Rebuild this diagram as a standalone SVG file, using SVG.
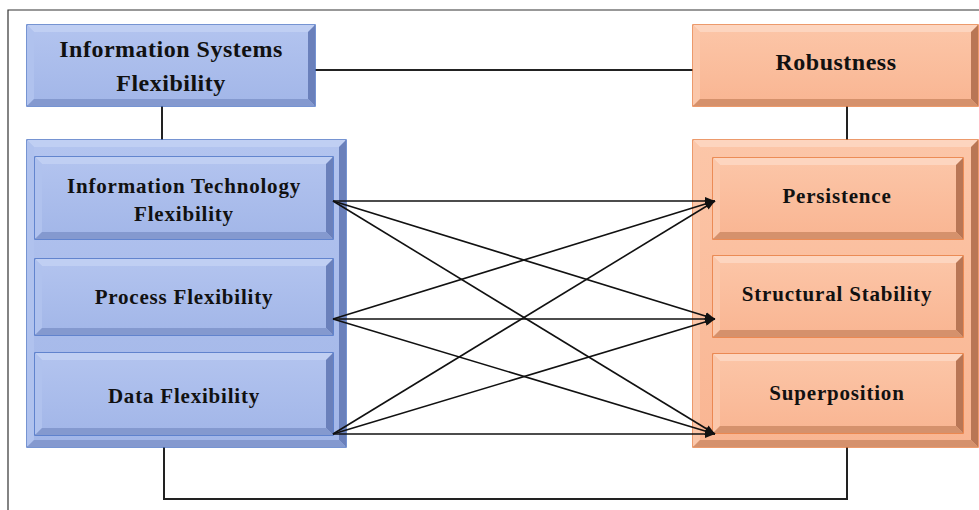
<svg xmlns="http://www.w3.org/2000/svg" width="979" height="510" viewBox="0 0 979 510">
  <defs>
    <marker id="arrow" viewBox="0 0 10 8" refX="10" refY="4" markerWidth="10" markerHeight="8" markerUnits="userSpaceOnUse" orient="auto">
      <path d="M0,0 L10,4 L0,8 Z" fill="#111"/>
    </marker>
    <linearGradient id="blueFace" x1="0" y1="0" x2="0" y2="1">
      <stop offset="0" stop-color="#b3c4ef"/>
      <stop offset="1" stop-color="#a2b6e8"/>
    </linearGradient>
    <linearGradient id="orangeFace" x1="0" y1="0" x2="0" y2="1">
      <stop offset="0" stop-color="#fcc6a8"/>
      <stop offset="1" stop-color="#f9b592"/>
    </linearGradient>
  </defs>
  <style>
    .b-face { fill: url(#blueFace); stroke: #4a72c4; stroke-width: 1.5; }
    .b-top { fill: #c0cff3; }
    .b-left { fill: #b0c2ee; }
    .b-right { fill: #6a80bb; }
    .b-bottom { fill: #8499cf; }
    .o-face { fill: url(#orangeFace); stroke: #e67a3c; stroke-width: 1.5; }
    .o-top { fill: #fdd5bf; }
    .o-left { fill: #fbc7aa; }
    .o-right { fill: #b97655; }
    .o-bottom { fill: #d5916c; }
    .frame { stroke: #333; stroke-width: 1.2; fill: none; }
    .link { stroke: #222; stroke-width: 2; fill: none; }
    .arr { stroke: #111; stroke-width: 1.6; fill: none; marker-end: url(#arrow); }
    text { font-family: "Liberation Serif", "Times New Roman", serif; font-weight: bold; fill: #111; text-anchor: middle; }
    .t-big { font-size: 24px; letter-spacing: 0.5px; }
    .t-mid { font-size: 21px; letter-spacing: 0.8px; }
  </style>

  <!-- page frame -->
  <path class="frame" d="M8,510 L8,10 L979,10"/>

  <!-- plain links between the parent boxes (drawn behind the boxes) -->
  <g id="links">
    <line class="link" x1="315" y1="70" x2="693" y2="70"/>
    <line class="link" x1="162" y1="106" x2="162" y2="140"/>
    <line class="link" x1="847" y1="106" x2="847" y2="140"/>
    <path class="link" d="M164,447 L164,499 L847,499 L847,447"/>
  </g>

  <!-- Information Systems Flexibility -->
  <g id="is-flexibility">
    <rect class="b-face" x="27" y="25" width="288" height="81"/>
    <polygon class="b-top" points="27,25 315,25 308,32 34,32"/>
    <polygon class="b-left" points="27,25 34,32 34,99 27,106"/>
    <polygon class="b-right" points="315,25 315,106 308,99 308,32"/>
    <polygon class="b-bottom" points="27,106 34,99 308,99 315,106"/>
    <text class="t-big" x="171" y="57">Information Systems</text>
    <text class="t-big" x="171" y="91">Flexibility</text>
  </g>

  <!-- left container -->
  <g id="is-group">
    <rect class="b-face" x="27" y="140" width="319" height="307"/>
    <polygon class="b-top" points="27,140 346,140 339,147 34,147"/>
    <polygon class="b-left" points="27,140 34,147 34,440 27,447"/>
    <polygon class="b-right" points="346,140 346,447 339,440 339,147"/>
    <polygon class="b-bottom" points="27,447 34,440 339,440 346,447"/>
  </g>

  <g id="it-flexibility">
    <rect class="b-face" x="35" y="157" width="298" height="82"/>
    <polygon class="b-top" points="35,157 333,157 326,164 42,164"/>
    <polygon class="b-left" points="35,157 42,164 42,232 35,239"/>
    <polygon class="b-right" points="333,157 333,239 326,232 326,164"/>
    <polygon class="b-bottom" points="35,239 42,232 326,232 333,239"/>
    <text class="t-mid" x="184" y="193">Information Technology</text>
    <text class="t-mid" x="184" y="221">Flexibility</text>
  </g>

  <g id="process-flexibility">
    <rect class="b-face" x="35" y="259" width="298" height="76"/>
    <polygon class="b-top" points="35,259 333,259 326,266 42,266"/>
    <polygon class="b-left" points="35,259 42,266 42,328 35,335"/>
    <polygon class="b-right" points="333,259 333,335 326,328 326,266"/>
    <polygon class="b-bottom" points="35,335 42,328 326,328 333,335"/>
    <text class="t-mid" x="184" y="304">Process Flexibility</text>
  </g>

  <g id="data-flexibility">
    <rect class="b-face" x="35" y="353" width="298" height="82"/>
    <polygon class="b-top" points="35,353 333,353 326,360 42,360"/>
    <polygon class="b-left" points="35,353 42,360 42,428 35,435"/>
    <polygon class="b-right" points="333,353 333,435 326,428 326,360"/>
    <polygon class="b-bottom" points="35,435 42,428 326,428 333,435"/>
    <text class="t-mid" x="184" y="403">Data Flexibility</text>
  </g>

  <!-- Robustness -->
  <g id="robustness">
    <rect class="o-face" x="693" y="25" width="285" height="81"/>
    <polygon class="o-top" points="693,25 978,25 971,32 700,32"/>
    <polygon class="o-left" points="693,25 700,32 700,99 693,106"/>
    <polygon class="o-right" points="978,25 978,106 971,99 971,32"/>
    <polygon class="o-bottom" points="693,106 700,99 971,99 978,106"/>
    <text class="t-big" x="836" y="70">Robustness</text>
  </g>

  <!-- right container -->
  <g id="robustness-group">
    <rect class="o-face" x="693" y="140" width="285" height="307"/>
    <polygon class="o-top" points="693,140 978,140 971,147 700,147"/>
    <polygon class="o-left" points="693,140 700,147 700,440 693,447"/>
    <polygon class="o-right" points="978,140 978,447 971,440 971,147"/>
    <polygon class="o-bottom" points="693,447 700,440 971,440 978,447"/>
  </g>

  <g id="persistence">
    <rect class="o-face" x="713" y="158" width="250" height="81"/>
    <polygon class="o-top" points="713,158 963,158 956,165 720,165"/>
    <polygon class="o-left" points="713,158 720,165 720,232 713,239"/>
    <polygon class="o-right" points="963,158 963,239 956,232 956,165"/>
    <polygon class="o-bottom" points="713,239 720,232 956,232 963,239"/>
    <text class="t-mid" x="837" y="203">Persistence</text>
  </g>

  <g id="structural-stability">
    <rect class="o-face" x="713" y="256" width="250" height="81"/>
    <polygon class="o-top" points="713,256 963,256 956,263 720,263"/>
    <polygon class="o-left" points="713,256 720,263 720,330 713,337"/>
    <polygon class="o-right" points="963,256 963,337 956,330 956,263"/>
    <polygon class="o-bottom" points="713,337 720,330 956,330 963,337"/>
    <text class="t-mid" x="837" y="301">Structural Stability</text>
  </g>

  <g id="superposition">
    <rect class="o-face" x="713" y="354" width="250" height="79"/>
    <polygon class="o-top" points="713,354 963,354 956,361 720,361"/>
    <polygon class="o-left" points="713,354 720,361 720,426 713,433"/>
    <polygon class="o-right" points="963,354 963,433 956,426 956,361"/>
    <polygon class="o-bottom" points="713,433 720,426 956,426 963,433"/>
    <text class="t-mid" x="837" y="400">Superposition</text>
  </g>

  <!-- arrows from each flexibility box to each robustness box -->
  <g id="connectors">
    <line class="arr" x1="333" y1="201" x2="715" y2="201"/>
    <line class="arr" x1="333" y1="201" x2="715" y2="319"/>
    <line class="arr" x1="333" y1="201" x2="715" y2="434"/>
    <line class="arr" x1="333" y1="319" x2="715" y2="201"/>
    <line class="arr" x1="333" y1="319" x2="715" y2="319"/>
    <line class="arr" x1="333" y1="319" x2="715" y2="434"/>
    <line class="arr" x1="333" y1="434" x2="715" y2="201"/>
    <line class="arr" x1="333" y1="434" x2="715" y2="319"/>
    <line class="arr" x1="333" y1="434" x2="715" y2="434"/>
  </g>
</svg>
